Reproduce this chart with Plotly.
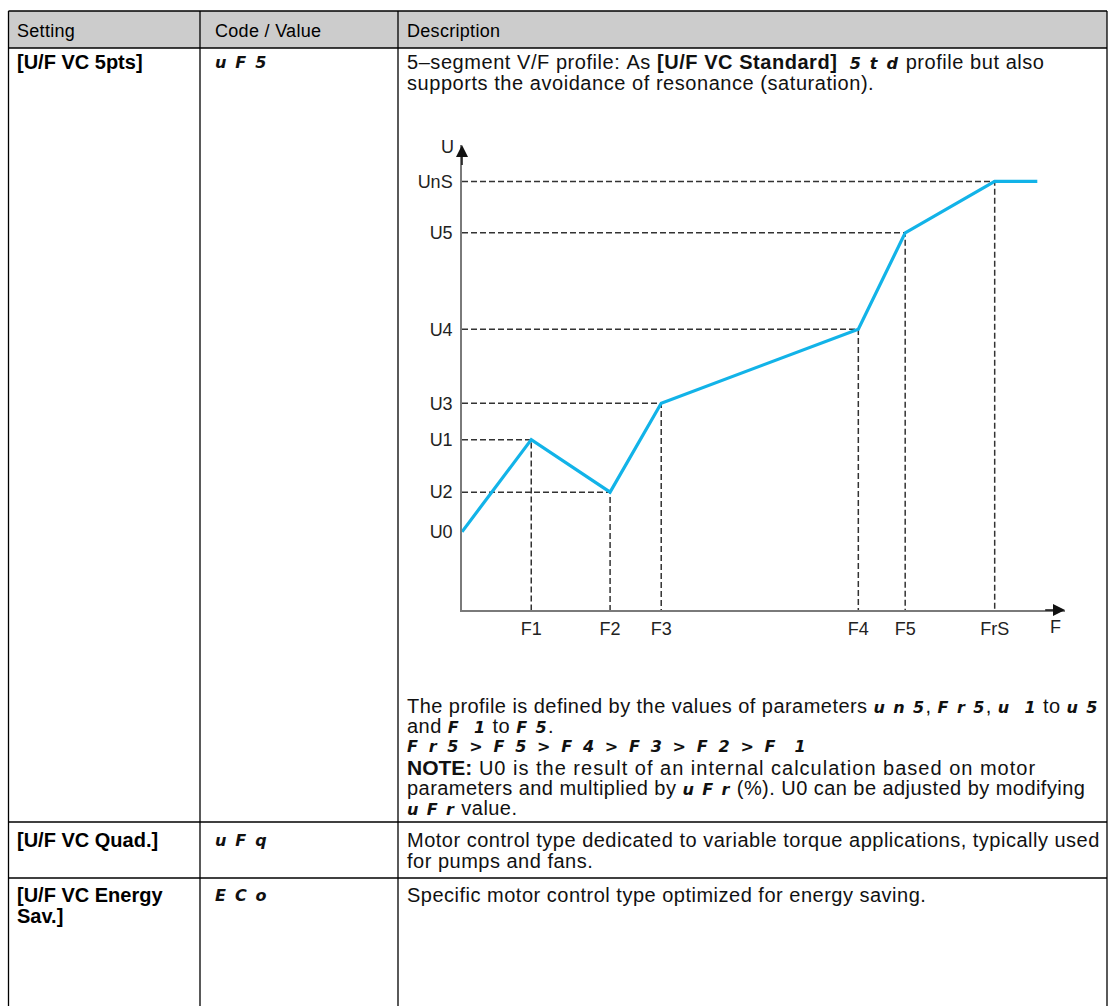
import plotly.graph_objects as go

# ---------------- data (V/F profile, arbitrary units) ----------------
F_LABELS = ["F1", "F2", "F3", "F4", "F5", "FrS"]
F_VALUES = [6.5, 13.9, 18.7, 37.2, 41.6, 50.0]
U_LABELS = ["U1", "U2", "U3", "U4", "U5", "UnS"]
U_VALUES = [159, 110, 193, 262, 352, 400]
U0_LABEL = "U0"
U0_VALUE = 73
F_CURVE_END = 54.0
F_AXIS_MAX = 56.6
U_AXIS_MAX = 434

# ---------------- table text ----------------
HEADERS = ["Setting", "Code / Value", "Description"]
SETTINGS = [["[U/F VC 5pts]"], ["[U/F VC Quad.]"], ["[U/F VC Energy", "Sav.]"]]
CODES = ["u F 5", "u F q", "E C o"]

# pieces: ("n", normal text), ("b", bold text), ("s", display-code text), ("N", note label)
ROW1_TOP = [
    [("n", "5\u2013segment V/F profile: As "), ("b", "[U/F VC Standard]"), ("n", "  "),
     ("s", "5 t d"), ("n", " profile but also")],
    [("n", "supports the avoidance of resonance (saturation).")],
]
ROW1_BOTTOM = [
    [("n", "The profile is defined by the values of parameters "), ("s", "u n 5"), ("n", ", "),
     ("s", "F r 5"), ("n", ", "), ("s", "u  1"), ("n", " to "), ("s", "u 5")],
    [("n", "and "), ("s", "F  1"), ("n", " to "), ("s", "F 5"), ("n", ".")],
    [("S", "F r 5 > F 5 > F 4 > F 3 > F 2 > F  1")],
    [("N", "NOTE:"), ("w", " U0 is the result of an internal calculation based on motor")],
    [("n", "parameters and multiplied by "), ("s", "u F r"),
     ("n", " (%). U0 can be adjusted by modifying")],
    [("s", "u F r"), ("n", " value.")],
]
ROW2_DESC = [
    [("n", "Motor control type dedicated to variable torque applications, typically used")],
    [("n", "for pumps and fans.")],
]
ROW3_DESC = [[("n", "Specific motor control type optimized for energy saving.")]]

W, H = 1109, 1006


def px(x):
    return x / W


def py(y):
    return 1 - y / H


NB = "\u00a0"


def esc(t):
    return t.replace("&", "&amp;").replace("<", "&lt;").replace(">", "&gt;").replace(" ", NB)


SEG_STYLE = ("font-family:'DejaVu Sans';font-style:italic;font-weight:bold;"
             "font-size:16px;letter-spacing:%.1fpx")


def build(pieces, spacing=0.55, segsp=1.7):
    out = ""
    for kind, t in pieces:
        if kind == "s":
            out += '<span style="' + SEG_STYLE % segsp + '">' + esc(t) + '</span>'
        elif kind == "S":
            out += '<span style="' + SEG_STYLE % 2.6 + '">' + esc(t) + '</span>'
        elif kind == "b":
            out += '<b><span style="letter-spacing:%.2fpx">' % spacing + esc(t) + '</span></b>'
        elif kind == "N":
            out += '<b><span style="font-size:21px">' + esc(t) + '</span></b>'
        elif kind == "w":
            out += '<span style="letter-spacing:1.0px">' + esc(t) + '</span>'
        else:
            out += '<span style="letter-spacing:%.2fpx">' % spacing + esc(t) + '</span>'
    return out


fig = go.Figure()

# ---------------- chart ----------------
curve_x = [0] + F_VALUES + [F_CURVE_END]
curve_y = [U0_VALUE] + U_VALUES + [U_VALUES[-1]]

gx, gy = [], []
for f, u in zip(F_VALUES, U_VALUES):
    gx += [0, f, f, None]
    gy += [u, u, 0, None]

fig.add_trace(go.Scatter(x=gx, y=gy, mode="lines",
                         line=dict(color="#333333", width=1.5, dash="6px,3px"),
                         hoverinfo="skip", showlegend=False, cliponaxis=False))
fig.add_trace(go.Scatter(x=curve_x, y=curve_y, mode="lines",
                         line=dict(color="#12B3E8", width=3.2),
                         showlegend=False, cliponaxis=False))

yt_vals = [U0_VALUE] + U_VALUES
yt_text = [U0_LABEL] + U_LABELS
TICKFONT = dict(family="Liberation Sans", size=18, color="#222222")

fig.update_xaxes(domain=[px(462), px(1065)], range=[0, F_AXIS_MAX],
                 showgrid=False, zeroline=False, showline=True,
                 linecolor="#7a7a7a", linewidth=1.5,
                 tickvals=F_VALUES, ticktext=F_LABELS, ticks="",
                 ticklabelstandoff=2, tickfont=TICKFONT)
fig.update_yaxes(domain=[py(610), py(145)], range=[0, U_AXIS_MAX],
                 showgrid=False, zeroline=False, showline=True,
                 linecolor="#7a7a7a", linewidth=1.5,
                 tickvals=yt_vals, ticktext=yt_text, ticks="",
                 ticklabelstandoff=4, tickfont=TICKFONT)

# axis arrows and names
fig.add_annotation(x=0, y=U_AXIS_MAX, ax=0, ay=U_AXIS_MAX - 20, xref="x", yref="y",
                   axref="x", ayref="y", showarrow=True, arrowhead=2, arrowsize=1.6,
                   arrowwidth=1.5, arrowcolor="#111111", text="")
fig.add_annotation(x=F_AXIS_MAX, y=0, ax=F_AXIS_MAX - 2, ay=0, xref="x", yref="y",
                   axref="x", ayref="y", showarrow=True, arrowhead=2, arrowsize=1.6,
                   arrowwidth=1.5, arrowcolor="#111111", text="")
fig.add_annotation(x=0, y=U_AXIS_MAX, xref="x", yref="y", text="U", showarrow=False,
                   xanchor="right", yanchor="middle", xshift=-6, yshift=-2, font=TICKFONT)
fig.add_annotation(x=F_AXIS_MAX, y=0, xref="x", yref="y", text="F", showarrow=False,
                   xanchor="right", yanchor="top", xshift=-2, yshift=-5, font=TICKFONT)

# ---------------- table ----------------
LINE = dict(color="#000000", width=1.3)
fig.add_shape(type="rect", xref="paper", yref="paper", x0=px(8.5), x1=px(1107),
              y0=py(48), y1=py(11), fillcolor="#CCCCCC", line=dict(width=0), layer="below")
for y in [11, 48, 822, 878]:
    fig.add_shape(type="line", xref="paper", yref="paper", x0=px(8.5), x1=px(1107),
                  y0=py(y), y1=py(y), line=LINE)
for x in [8.5, 200, 398, 1107]:
    fig.add_shape(type="line", xref="paper", yref="paper", x0=px(x), x1=px(x),
                  y0=py(11), y1=py(1006), line=LINE)

HEAD = dict(family="Liberation Sans, Arial", size=18, color="#000000")
BODY = dict(family="Liberation Sans, Arial", size=20, color="#111111")
BOLD = dict(family="Liberation Sans, Arial", size=20, color="#000000", weight="bold")


def txt(x, y, t, font):
    fig.add_annotation(x=px(x), y=py(y), xref="paper", yref="paper", text=t,
                       showarrow=False, xanchor="left", yanchor="middle", font=font)


for x, h in zip([15, 213, 405], HEADERS):
    txt(x, 31, build([("n", h)], 0.3), HEAD)

row_y = [62, 840, 895]
for ry, lines in zip(row_y, SETTINGS):
    for i, l in enumerate(lines):
        txt(15, ry + 20.5 * i, l, BOLD)
for ry, c in zip(row_y, CODES):
    txt(213, ry, build([("s", c)]), BODY)

for i, l in enumerate(ROW1_TOP):
    txt(405, 62 + 21 * i, build(l), BODY)
for i, l in enumerate(ROW1_BOTTOM):
    txt(405, 706 + 20.4 * i, build(l, 0.45, 1.4), BODY)
for i, l in enumerate(ROW2_DESC):
    txt(405, 840 + 20.5 * i, build(l, 0.5), BODY)
for i, l in enumerate(ROW3_DESC):
    txt(405, 895 + 20.5 * i, build(l, 0.5), BODY)

fig.update_layout(width=W, height=H, margin=dict(l=0, r=0, t=0, b=0),
                  paper_bgcolor="white", plot_bgcolor="white", showlegend=False)

fig.write_html("out.html", config={"displayModeBar": False},
               post_script="document.body.style.margin='0px';document.body.style.overflow='hidden';")
